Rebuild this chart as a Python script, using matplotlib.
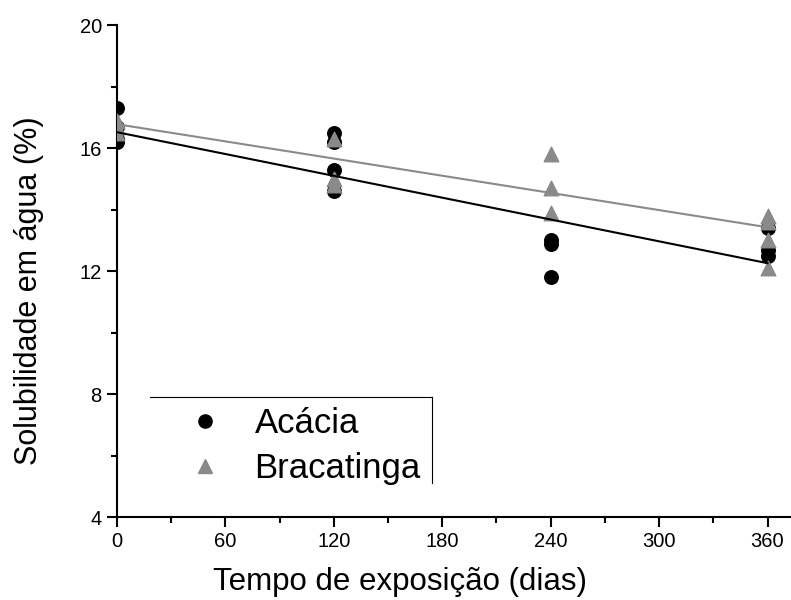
import matplotlib.pyplot as plt
from matplotlib.lines import Line2D
from matplotlib.ticker import MultipleLocator
import numpy as np

plt.rcParams['font.family'] = ['Liberation Sans', 'DejaVu Sans']

# Data
acacia_days = [0, 0, 0, 0, 120, 120, 120, 120, 240, 240, 240, 360, 360, 360]
acacia_sol = [17.3, 16.7, 16.3, 16.2, 16.5, 16.2, 15.3, 14.6, 13.0, 12.9, 11.8, 13.4, 12.7, 12.5]
bracatinga_days = [0, 0, 0, 120, 120, 120, 240, 240, 240, 360, 360, 360, 360]
bracatinga_sol = [16.9, 16.7, 16.5, 16.3, 15.0, 14.8, 15.8, 14.7, 13.9, 13.8, 13.6, 13.0, 12.1]

# linear fits (intercept, slope) as drawn in the figure
acacia_fit = (16.52, -0.01183)
bracatinga_fit = (16.78, -0.00931)

gray = "#8a8a8a"

fig = plt.figure(figsize=(7.91, 6), dpi=100)
ax = fig.add_axes([0.148, 0.138, 0.852, 0.82])

fit_x = np.array([0, 360])
ax.scatter(acacia_days, acacia_sol, s=95, color="black", marker="o", zorder=3)
ax.scatter(bracatinga_days, bracatinga_sol, s=110, color=gray, marker="^", zorder=4)
ax.plot(fit_x, acacia_fit[0] + acacia_fit[1] * fit_x, color="black", lw=1.5, zorder=5)
ax.plot(fit_x, bracatinga_fit[0] + bracatinga_fit[1] * fit_x, color=gray, lw=1.5, zorder=5)

ax.set_xlim(0, 373)
ax.set_ylim(4, 20)
ax.xaxis.set_major_locator(MultipleLocator(60))
ax.xaxis.set_minor_locator(MultipleLocator(30))
ax.yaxis.set_major_locator(MultipleLocator(4))
ax.yaxis.set_minor_locator(MultipleLocator(2))

for side in ["top", "right"]:
    ax.spines[side].set_visible(False)
for side in ["left", "bottom"]:
    ax.spines[side].set_linewidth(1.5)
ax.tick_params(which="major", direction="out", length=7, width=1.5, labelsize=14.5, pad=4)
ax.tick_params(which="minor", direction="out", length=4, width=1.5)

ax.set_xlabel("Tempo de exposição (dias)", fontsize=22.5)
ax.set_ylabel("Solubilidade em água (%)", fontsize=22)
ax.xaxis.set_label_coords(0.42, -0.101)
ax.yaxis.set_label_coords(-0.108, 0.461)

handles = [
    Line2D([], [], marker="o", color="black", ls="", markersize=9.5),
    Line2D([], [], marker="^", color=gray, ls="", markersize=10.5),
]
ax.legend(handles, ["Acácia", "Bracatinga"], loc="upper left",
          bbox_to_anchor=(0.105, 0.2236), frameon=False, fontsize=25,
          handlelength=1.0, handletextpad=0.92, labelspacing=0.35,
          borderpad=0, borderaxespad=0)

# partial legend frame (top and right edges)
ax.plot([0.049, 0.467], [0.244, 0.244], color="black", lw=0.8,
        transform=ax.transAxes, clip_on=False)
ax.plot([0.467, 0.467], [0.244, 0.069], color="black", lw=0.8,
        transform=ax.transAxes, clip_on=False)

plt.savefig("out.png", dpi=100)
